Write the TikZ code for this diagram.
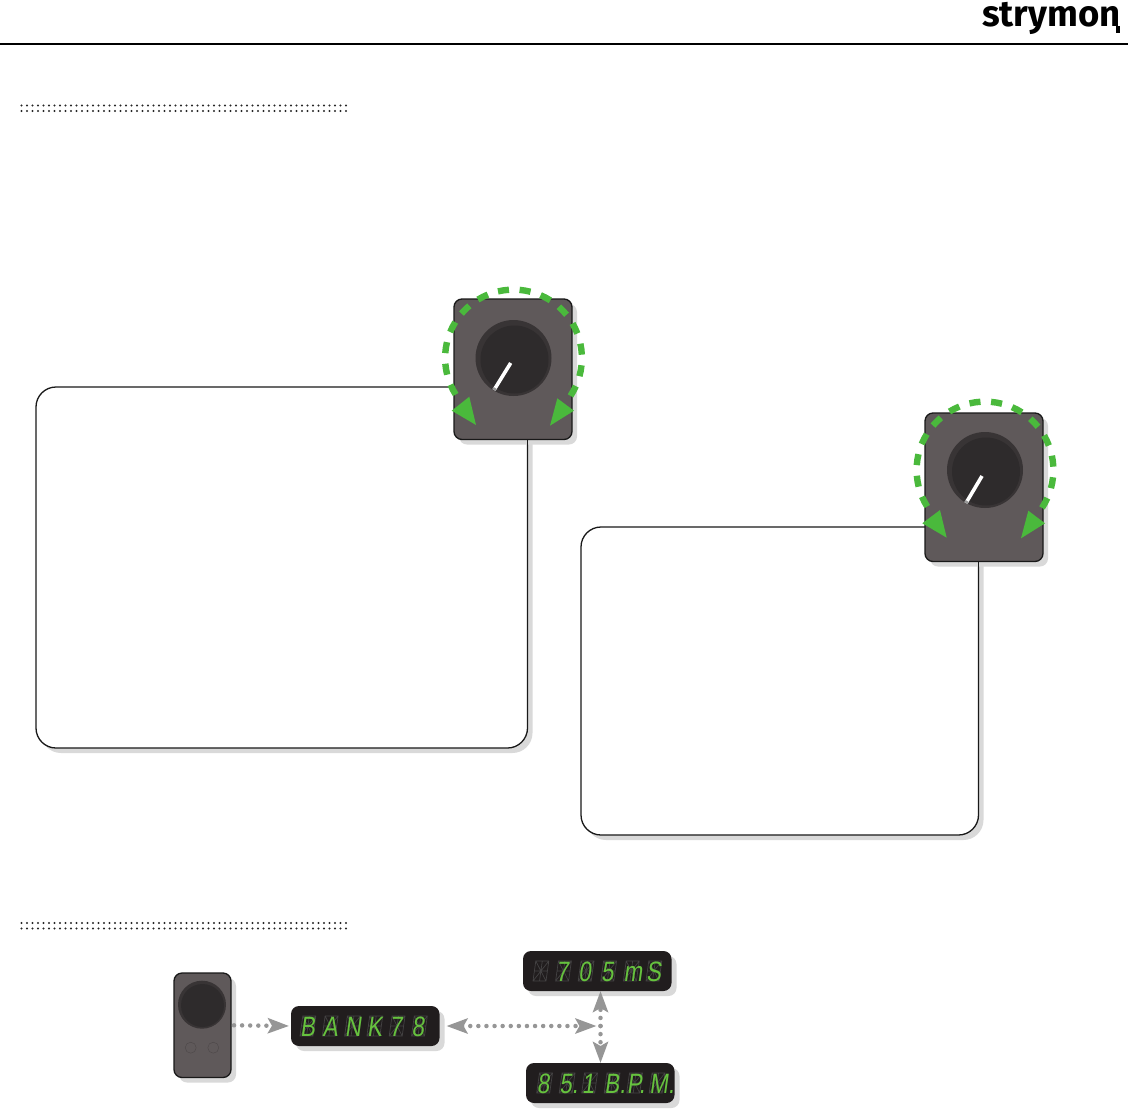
\documentclass[tikz,border=0pt]{standalone}
\usepackage{fontspec}
\usetikzlibrary{arrows.meta,shadows}
\newfontfamily\segfont[FakeSlant=0.14,FakeStretch=0.8]{Liberation Sans}
\newfontfamily\logofont{Fira Sans}
\definecolor{plategray}{HTML}{5F595A}
\definecolor{knobdark}{HTML}{2E2B2C}
\definecolor{knobrim}{HTML}{383435}
\definecolor{dispdark}{HTML}{211D1E}
\definecolor{footrim}{HTML}{4C4748}
\definecolor{ledgreen}{HTML}{4AB93C}
\definecolor{seggreen}{HTML}{66C23E}
\definecolor{segdim}{HTML}{444243}
\definecolor{shadowgray}{HTML}{D9D9D9}
\definecolor{tipgray}{HTML}{969696}
\tikzset{
  softshadow/.style={drop shadow={shadow xshift=5pt,shadow yshift=-5pt,fill=shadowgray,opacity=1}},
  panelbox/.style={draw=black!90,line width=1.3pt,fill=white,rounded corners=20pt,anchor=north west,inner sep=0pt,outer sep=0pt,softshadow},
  platebox/.style={draw=black!90,line width=1.3pt,fill=plategray,rounded corners=8pt,anchor=north west,inner sep=0pt,outer sep=0pt,softshadow},
  dispbox/.style={fill=dispdark,rounded corners=8pt,anchor=north west,inner sep=0pt,outer sep=0pt,softshadow},
  knobrimstyle/.style={circle,fill=knobrim,inner sep=0pt,minimum size=#1},
  knobtop/.style={circle,fill=knobdark,inner sep=0pt,minimum size=#1},
  ringdash/.style={ledgreen,line width=6.4pt},
  ringtip/.style={fill=ledgreen},
  pointer/.style={white,line width=3.6pt},
  dotline/.style={tipgray,line width=4.5pt,line cap=round,dash pattern=on 0pt off 8.1pt},
  dotarrow/.style={{Stealth[length=21pt,width=15pt,inset=4pt,tipgray]}-{Stealth[length=21pt,width=15pt,inset=4pt,tipgray]}},
  dottip/.style={-{Stealth[length=21pt,width=15pt,inset=4pt,tipgray]}},
  rulerdots/.style={black!85,line width=2.4pt,line cap=round,dash pattern=on 0pt off 5.5pt},
  segcell/.style={segdim,line width=.7pt},
  segtext/.style={anchor=base west,inner sep=0pt,text=seggreen,font=\segfont\fontsize{28}{28}\selectfont}
}
% one row of display cells: name, x, y of the baseline, step, characters
\newcommand{\segrow}[5]{%
  \foreach \ch [count=\i from 0] in {#5} {
    \draw[segcell,shift={(#2+\i*#4,#3)},xslant=0.14] (0,0) rectangle (13,20) (0,10) -- (13,10) (6.5,0) -- (6.5,20) (0,0) -- (13,20) (13,0) -- (0,20);
    \node[segtext] (#1\i) at (#2+\i*#4,#3) {\ch};
  }%
}
% fourteen dashes round one knob
\newcommand{\knobring}[2]{%
  \foreach \k in {0,...,13} {
    \draw[ringdash] (#1,#2) ++({212.3-18.2*\k}:68.4) arc ({212.3-18.2*\k}:{203-18.2*\k}:68.4);
  }%
}
\begin{document}
\begin{tikzpicture}[x=1pt,y=1pt]
  \useasboundingbox (0,0) rectangle (1128,-1109);

  % header
  \node[anchor=base west,inner sep=0pt,font=\logofont\bfseries\fontsize{36.5}{36.5}\selectfont] (logo) at (982,-26) {strymon};
  \draw[line width=4pt] ([xshift=-2.5pt]logo.base east) -- ++(0,-7);
  \coordinate (ruleL) at (0,-43.5);
  \coordinate (ruleR) at (1128,-43.5);
  \draw[line width=2pt] (ruleL) -- (ruleR);

  % dotted section rulers
  \foreach \y in {105.5,111,923,928.5} {
    \draw[rulerdots] (21.5,-\y) -- (346,-\y);
  }

  % left panel and knob
  \node[panelbox,minimum width=491.5pt,minimum height=361pt] (panelA) at (36,-387) {};
  \node[platebox,minimum width=118pt,minimum height=140.5pt] (plateA) at (454,-299) {};
  \draw[line width=1.3pt,black!90] (plateA.south -| panelA.east) -- ++(0,-8);
  \node[knobrimstyle=76pt] (knobA) at (513.5,-358) {};
  \node[knobtop=68pt] (capA) at (514.5,-359.5) {};
  \draw[pointer] (510.7,-363) -- (494,-390);
  \draw[pointer,tipgray] (495.2,-388) -- (494,-390);
  \knobring{513.5}{-358}
  \fill[ringtip] (469.3,-396.7) -- (451.7,-410.7) -- (476,-425) -- cycle;
  \fill[ringtip] (550,-425.7) -- (574,-410.7) -- (557.3,-398.3) -- cycle;

  % right panel and knob
  \node[panelbox,minimum width=397.5pt,minimum height=308pt] (panelB) at (581,-527) {};
  \node[platebox,minimum width=118pt,minimum height=148.5pt] (plateB) at (925,-413) {};
  \draw[line width=1.3pt,black!90] (plateB.south -| panelB.east) -- ++(0,-8);
  \node[knobrimstyle=76pt] (knobB) at (985,-470) {};
  \node[knobtop=68pt] (capB) at (986,-471.5) {};
  \draw[pointer] (982,-476) -- (966,-503);
  \draw[pointer,tipgray] (967.2,-501) -- (966,-503);
  \knobring{985}{-470}
  \fill[ringtip] (940,-510) -- (922.3,-523.3) -- (946.7,-537.7) -- cycle;
  \fill[ringtip] (1021,-538.3) -- (1045,-523.3) -- (1028.3,-510.7) -- cycle;

  % small pedal
  \node[platebox,minimum width=57pt,minimum height=104.5pt] (pedal) at (174,-973) {};
  \node[knobrimstyle=48pt] (pedalknob) at (202,-1004.7) {};
  \node[knobtop=43pt] (pedalcap) at (202.5,-1005.5) {};
  \node[circle,draw=footrim,inner sep=0pt,minimum size=11pt] (footL) at (190.7,-1047.7) {};
  \node[circle,draw=footrim,inner sep=0pt,minimum size=11pt] (footR) at (213.3,-1047.7) {};

  % displays
  \node[dispbox,minimum width=148.5pt,minimum height=40pt] (dispBank) at (291,-1006) {};
  \node[dispbox,minimum width=148.5pt,minimum height=40pt] (dispTime) at (523,-951) {};
  \node[dispbox,minimum width=148.5pt,minimum height=40pt] (dispTempo) at (526,-1063) {};
  \segrow{bank}{300}{-1036}{22.3}{B,A,N,K,7,8}
  \segrow{time}{533}{-981}{22.6}{{},7,0,5,m,S}
  \segrow{tempo}{536.7}{-1093}{22.5}{8,5.,1,B.,P.,M.}

  % dotted connectors
  \coordinate (junction) at (600.5,-1026);
  \draw[dotline,dottip,shorten <=3pt,shorten >=2pt] (pedal.east) -- (dispBank.west);
  \draw[dotline,dotarrow,shorten <=7pt,shorten >=4pt] (dispBank.east) -- (junction);
  \draw[dotline,dottip] (junction) -- (junction |- dispTime.south);
  \draw[dotline,dottip] (junction) -- (junction |- dispTempo.north);
\end{tikzpicture}
\end{document}
